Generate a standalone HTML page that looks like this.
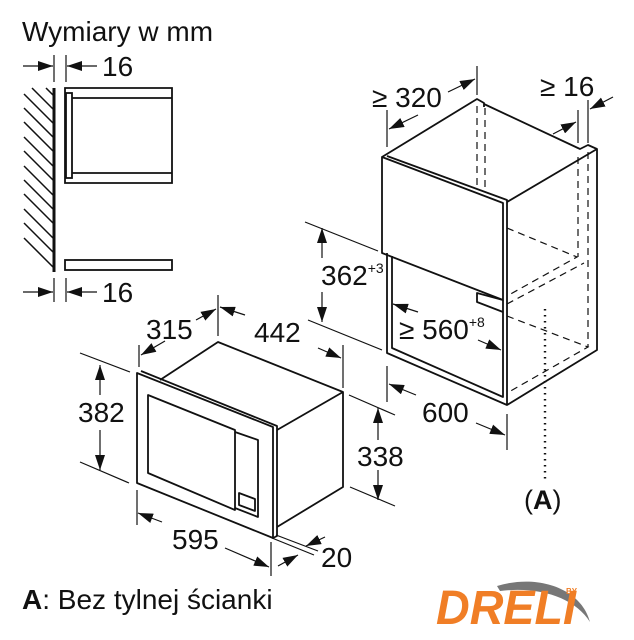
<!DOCTYPE html>
<html><head><meta charset="utf-8"><style>
html,body{margin:0;padding:0;background:#fff;}
svg{display:block;}
text{font-family:"Liberation Sans",sans-serif;fill:#111;}
</style></head><body>
<svg width="634" height="640" viewBox="0 0 634 640" xmlns="http://www.w3.org/2000/svg">
<defs>
<marker id="a" markerUnits="userSpaceOnUse" markerWidth="16" markerHeight="10" refX="15" refY="5" orient="auto">
<path d="M0,0 L15,5 L0,10 z" fill="#111"/>
</marker>
</defs>

<text x="22" y="41" font-size="28">Wymiary w mm</text>

<!-- wall -->
<g stroke="#111" fill="none" stroke-width="1.5">
<path d="M24,94 L53,123 M24,108 L53,137 M24,122 L53,151 M24,137 L53,166 M24,151 L53,180 M24,166 L53,195 M24,180 L53,209 M24,194 L53,223 M24,209 L53,238 M24,223 L53,252 M24,238 L53,267 M32,88 L53,109 M46,88 L53,95"/>
</g>
<line x1="54" y1="88" x2="54" y2="272" stroke="#111" stroke-width="3"/>
<g stroke="#111" fill="none" stroke-width="1.8">
<path d="M65,88 L172,88 L172,183 L65,183 Z"/>
<path d="M72,98 L172,98 M72,173 L172,173"/>
<rect x="66" y="93" width="6" height="85"/>
<rect x="65" y="260" width="107" height="10"/>
</g>
<g stroke="#111" stroke-width="1.2">
<line x1="54" y1="55" x2="54" y2="82"/><line x1="66" y1="55" x2="66" y2="82"/>
<line x1="54" y1="278" x2="54" y2="302"/><line x1="66" y1="278" x2="66" y2="302"/>
<line x1="23" y1="66" x2="53" y2="66" marker-end="url(#a)"/>
<line x1="97" y1="66" x2="67" y2="66" marker-end="url(#a)"/>
<line x1="23" y1="292" x2="53" y2="292" marker-end="url(#a)"/>
<line x1="97" y1="292" x2="67" y2="292" marker-end="url(#a)"/>
</g>
<text x="102" y="76" font-size="28">16</text>
<text x="102" y="302" font-size="28">16</text>

<!-- cabinet -->
<g stroke="#111" fill="none" stroke-width="1.8" stroke-linejoin="round">
<path d="M382,157 L477,99 L484,103 L484,107"/>
<path d="M484,104 L580,149 L588,145 L597,149 L597,350 L507,405 L387,353 L387,253"/>
<path d="M382,157 L382,253 L503,300 L503,203 Z"/>
<path d="M387,156 L507,200 L507,405"/>
<path d="M507,202 L597,149"/>
<path d="M392,256 L392,348 L503,397 L503,300"/>
<path d="M503,300 L477,293 L477,302 L503,312"/>
</g>
<g stroke="#111" fill="none" stroke-width="1.2" stroke-dasharray="7,5">
<path d="M477,106 L477,190 M485,108 L485,192"/>
<path d="M578,157 L578,257 M588,152 L588,347"/>
<path d="M507,228 L577,257 L507,296"/>
<path d="M507,304 L584,263"/>
<path d="M507,316 L588,347 L507,393"/>
</g>
<line x1="545" y1="309" x2="545" y2="482" stroke="#111" stroke-width="2.4" stroke-dasharray="1.5,4.5"/>
<text x="524" y="509" font-size="27">(<tspan font-weight="bold">A</tspan>)</text>

<g stroke="#111" stroke-width="1.2">
<line x1="387" y1="110" x2="387" y2="147"/><line x1="477" y1="66" x2="477" y2="95"/>
<line x1="418" y1="115" x2="389" y2="129" marker-end="url(#a)"/>
<line x1="448" y1="92" x2="475" y2="79" marker-end="url(#a)"/>
<line x1="578" y1="110" x2="578" y2="143"/><line x1="588" y1="100" x2="588" y2="143"/>
<line x1="553" y1="134" x2="576" y2="122" marker-end="url(#a)"/>
<line x1="613" y1="97" x2="590" y2="109" marker-end="url(#a)"/>
<line x1="305" y1="222" x2="378" y2="251"/><line x1="308" y1="320" x2="382" y2="350"/>
<line x1="322" y1="258" x2="322" y2="228" marker-end="url(#a)"/>
<line x1="322" y1="292" x2="322" y2="322" marker-end="url(#a)"/>
<line x1="418" y1="312" x2="393" y2="304" marker-end="url(#a)"/>
<line x1="478" y1="340" x2="501" y2="350" marker-end="url(#a)"/>
<line x1="387" y1="366" x2="387" y2="402"/><line x1="507" y1="414" x2="507" y2="450"/>
<line x1="416" y1="395" x2="389" y2="384" marker-end="url(#a)"/>
<line x1="476" y1="423" x2="505" y2="435" marker-end="url(#a)"/>
</g>
<text x="372" y="107" font-size="28">≥ 320</text>
<text x="540" y="96" font-size="28">≥ 16</text>
<text x="321" y="285" font-size="28">362<tspan font-size="14" dy="-12">+3</tspan></text>
<text x="399" y="339" font-size="28">≥ 560<tspan font-size="14" dy="-12">+8</tspan></text>
<text x="422" y="422" font-size="28">600</text>

<!-- microwave -->
<g stroke="#111" fill="none" stroke-width="1.8" stroke-linejoin="round">
<path d="M137,373 L137,483 L273,538 L273,427 Z"/>
<path d="M141,371 L277,426 L277,536 L273,538"/>
<path d="M160,380 L218,342 L343,392 L343,487 L277,527"/>
<path d="M277,430 L343,392"/>
<path d="M148,395 L235,430 L235,510 L148,473 Z"/>
<path d="M235,432 L258,440 L258,517 L235,508"/>
<path d="M239,493 L255,499 L255,511 L239,505 Z"/>
</g>
<g stroke="#111" stroke-width="1.2">
<line x1="139" y1="345" x2="139" y2="367"/><line x1="218" y1="295" x2="218" y2="336"/>
<line x1="165" y1="341" x2="141" y2="355" marker-end="url(#a)"/>
<line x1="196" y1="320" x2="216" y2="309" marker-end="url(#a)"/>
<line x1="245" y1="315" x2="220" y2="307" marker-end="url(#a)"/>
<line x1="318" y1="348" x2="341" y2="358" marker-end="url(#a)"/>
<line x1="343" y1="345" x2="343" y2="388"/>
<line x1="80" y1="353" x2="130" y2="372"/><line x1="80" y1="462" x2="129" y2="483"/>
<line x1="100" y1="395" x2="100" y2="365" marker-end="url(#a)"/>
<line x1="100" y1="430" x2="100" y2="470" marker-end="url(#a)"/>
<line x1="349" y1="395" x2="395" y2="415"/><line x1="350" y1="487" x2="395" y2="506"/>
<line x1="378" y1="440" x2="378" y2="408" marker-end="url(#a)"/>
<line x1="378" y1="470" x2="378" y2="500" marker-end="url(#a)"/>
<line x1="137" y1="490" x2="137" y2="525"/><line x1="271" y1="542" x2="271" y2="576"/>
<line x1="162" y1="522" x2="138" y2="513" marker-end="url(#a)"/>
<line x1="225" y1="548" x2="269" y2="567" marker-end="url(#a)"/>
<line x1="272" y1="538" x2="314" y2="555"/><line x1="276" y1="535" x2="318" y2="551"/>
<line x1="325" y1="537" x2="306" y2="546" marker-end="url(#a)"/>
<line x1="278" y1="566" x2="298" y2="555" marker-end="url(#a)"/>
</g>
<text x="146" y="339" font-size="28">315</text>
<text x="254" y="342" font-size="28">442</text>
<text x="78" y="422" font-size="28">382</text>
<text x="357" y="466" font-size="28">338</text>
<text x="172" y="549" font-size="28">595</text>
<text x="321" y="567" font-size="28">20</text>

<text x="22" y="609" font-size="28"><tspan font-weight="bold">A</tspan>: Bez tylnej ścianki</text>

<!-- logo -->
<path d="M497,586 C540,573 582,590 590,622 C575,598 540,586 500,591 Z" fill="#777"/>
<text x="436" y="624" font-size="48" font-weight="bold" font-style="italic" style="fill:#f07e26" textLength="140" lengthAdjust="spacingAndGlyphs">DRELI</text>
<text x="566" y="594" font-size="8" font-weight="bold" style="fill:#f07e26">BY</text>
</svg>
</body></html>
